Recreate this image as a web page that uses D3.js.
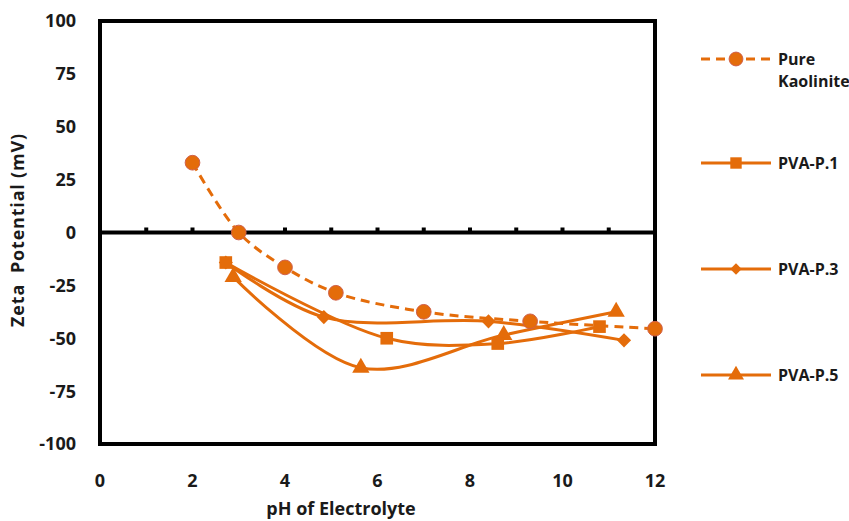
<!DOCTYPE html>
<html>
<head>
<meta charset="utf-8">
<script src="https://cdn.jsdelivr.net/npm/d3@7"></script>
<style>
  html, body { margin: 0; padding: 0; background: #fff; }
  svg text { font-family: "Open Sans", Lato, sans-serif; font-weight: 700; fill: #1a1a1a; }
</style>
</head>
<body>
<svg id="chart" width="849" height="521"></svg>
<script>
// pH of electrolyte vs zeta potential (mV)
const seriesNames = ["Pure Kaolinite", "PVA-P.1", "PVA-P.3", "PVA-P.5"];

const kaoliniteX = [2.0, 3.0, 4.0, 5.1, 7.0, 9.3, 12.0];
const kaoliniteY = [33, 0, -16.5, -28.5, -37.5, -42, -45.5];

const pva1X = [2.72, 6.2, 8.6, 10.8];
const pva1Y = [-14.2, -50, -52.5, -44.5];

const pva3X = [2.72, 4.84, 8.4, 11.33];
const pva3Y = [-14.2, -40, -42, -51];

const pva5X = [2.88, 5.64, 8.73, 11.16];
const pva5Y = [-21, -64, -48.5, -37.5];

const xTicks = [0, 2, 4, 6, 8, 10, 12];
const xMinorTicks = [1, 2, 3, 4, 5, 6, 7, 8, 9, 10, 11];
const yTicks = [-100, -75, -50, -25, 0, 25, 50, 75, 100];

const orange = "#E46C0A";

const svg = d3.select("#chart");
const plotLeft = 100, plotRight = 655, plotTop = 21, plotBottom = 444;

const x = d3.scaleLinear().domain([0, 12]).range([plotLeft, plotRight]);
const y = d3.scaleLinear().domain([-100, 100]).range([plotBottom, plotTop]);

// Tick labels
svg.append("g").selectAll("text").data(yTicks).join("text")
  .attr("x", 76).attr("y", d => y(d)).attr("dy", "0.36em")
  .attr("text-anchor", "end").attr("font-size", 18)
  .text(d => d);

svg.append("g").selectAll("text").data(xTicks).join("text")
  .attr("x", d => x(d)).attr("y", 481).attr("dy", "0.36em")
  .attr("text-anchor", "middle").attr("font-size", 18)
  .text(d => d);

// Axis titles
svg.append("text").attr("x", 341).attr("y", 515)
  .attr("text-anchor", "middle").attr("font-size", 18)
  .text("pH of Electrolyte");

svg.append("text")
  .attr("transform", `translate(18,230) rotate(-90)`)
  .attr("dy", "0.36em").attr("text-anchor", "middle").attr("font-size", 18)
  .attr("letter-spacing", 0.8)
  .attr("xml:space", "preserve")
  .text("Zeta  Potential (mV)");

// Zero line with small upward ticks
svg.append("line").attr("x1", plotLeft).attr("x2", plotRight)
  .attr("y1", y(0)).attr("y2", y(0))
  .attr("stroke", "#000").attr("stroke-width", 4);
svg.append("g").selectAll("rect").data(xMinorTicks).join("rect")
  .attr("x", d => x(d) - 2).attr("y", y(0) - 5)
  .attr("width", 4).attr("height", 5).attr("fill", "#000");

// Frame
svg.append("rect").attr("x", plotLeft).attr("y", plotTop)
  .attr("width", plotRight - plotLeft).attr("height", plotBottom - plotTop)
  .attr("fill", "none").attr("stroke", "#000").attr("stroke-width", 4);

const line = d3.line().x(d => x(d[0])).y(d => y(d[1]))
  .curve(d3.curveCatmullRom.alpha(0.5));

const zip = (a, b) => a.map((v, i) => [v, b[i]]);

// Square-ish diamond: a square turned by 45 degrees
const diamond = { draw(ctx, size) {
  const r = Math.sqrt(size) / 2 * Math.SQRT2;
  ctx.moveTo(0, -r); ctx.lineTo(r, 0); ctx.lineTo(0, r); ctx.lineTo(-r, 0); ctx.closePath();
} };

const data = [
  { name: seriesNames[0], pts: zip(kaoliniteX, kaoliniteY), dash: "9,6", sym: d3.symbolCircle, size: 170, legSize: 150 },
  { name: seriesNames[1], pts: zip(pva1X, pva1Y), dash: null, sym: d3.symbolSquare, size: 160, legSize: 130 },
  { name: seriesNames[2], pts: zip(pva3X, pva3Y), dash: null, sym: diamond, size: 100, legSize: 65 },
  { name: seriesNames[3], pts: zip(pva5X, pva5Y), dash: null, sym: d3.symbolTriangle, size: 130, legSize: 110 }
];

// Lines (drawn in reverse so the kaolinite curve sits on top)
const plot = svg.append("g");
data.slice().reverse().forEach(s => {
  plot.append("path").attr("d", line(s.pts))
    .attr("fill", "none").attr("stroke", orange).attr("stroke-width", 3)
    .attr("stroke-dasharray", s.dash);
});
data.slice().reverse().forEach(s => {
  plot.append("g").selectAll("path").data(s.pts).join("path")
    .attr("transform", d => `translate(${x(d[0])},${y(d[1])})`)
    .attr("d", d3.symbol(s.sym, s.size))
    .attr("fill", orange)
    .attr("stroke", s.sym === d3.symbolCircle ? "#d0604a" : "none")
    .attr("stroke-width", 1);
});

// Legend
const legendY = [59, 163, 269, 375];
const leg = svg.append("g");
data.forEach((s, i) => {
  const ly = legendY[i];
  leg.append("line").attr("x1", 701).attr("x2", 771).attr("y1", ly).attr("y2", ly)
    .attr("stroke", orange).attr("stroke-width", 3).attr("stroke-dasharray", s.dash);
  leg.append("path").attr("transform", `translate(736,${ly})`)
    .attr("d", d3.symbol(s.sym, s.legSize))
    .attr("fill", orange)
    .attr("stroke", s.sym === d3.symbolCircle ? "#d0604a" : "none");
  if (i === 0) {
    leg.append("text").attr("x", 778).attr("y", ly).attr("dy", "0.36em")
      .attr("font-size", 16).text("Pure");
    leg.append("text").attr("x", 778).attr("y", ly + 22).attr("dy", "0.36em")
      .attr("font-size", 16).text("Kaolinite");
  } else {
    leg.append("text").attr("x", 778).attr("y", ly).attr("dy", "0.36em")
      .attr("font-size", 16).text(s.name);
  }
});
</script>
</body>
</html>
